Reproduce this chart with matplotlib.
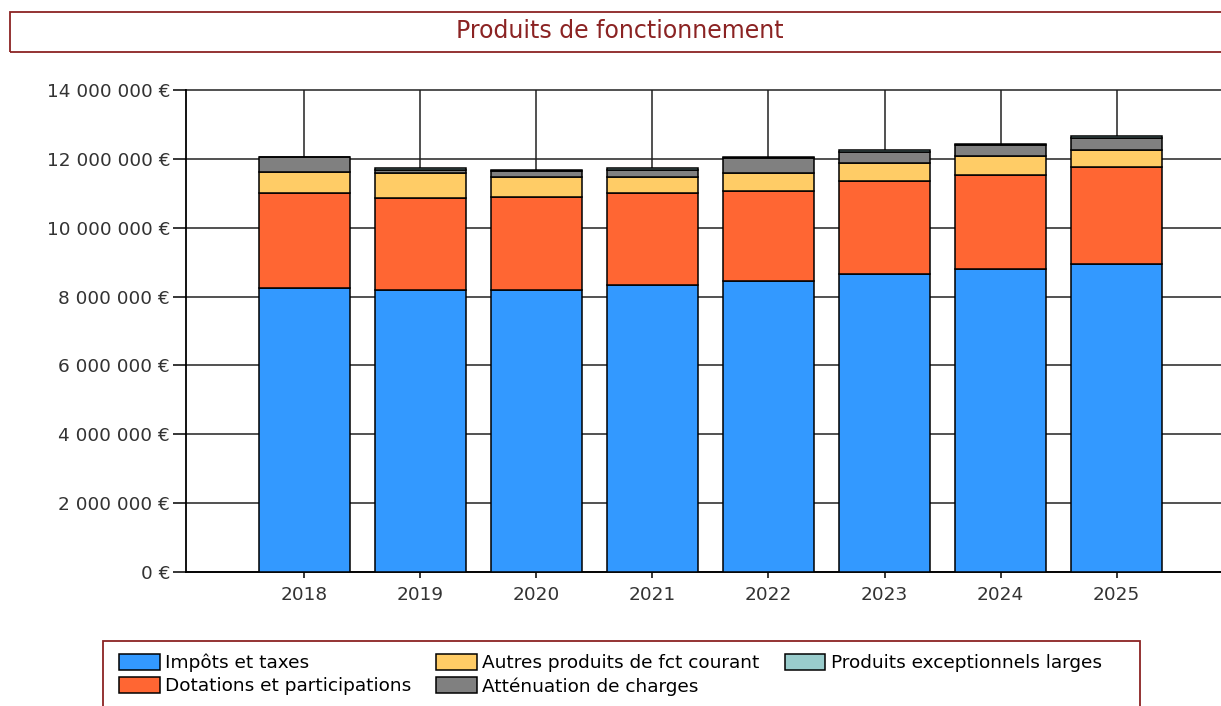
import matplotlib.pyplot as plt
import numpy as np
from matplotlib.patches import Rectangle
from matplotlib.ticker import FuncFormatter

# Données (en euros)
annees = ['2018', '2019', '2020', '2021', '2022', '2023', '2024', '2025']
impots = [8.26e6, 8.19e6, 8.19e6, 8.34e6, 8.45e6, 8.65e6, 8.79e6, 8.94e6]
dotations = [2.76e6, 2.66e6, 2.71e6, 2.68e6, 2.61e6, 2.71e6, 2.74e6, 2.81e6]
autres = [0.61e6, 0.73e6, 0.58e6, 0.46e6, 0.53e6, 0.51e6, 0.56e6, 0.51e6]
attenuation = [0.42e6, 0.10e6, 0.16e6, 0.20e6, 0.44e6, 0.33e6, 0.30e6, 0.34e6]
exceptionnels = [0.01e6, 0.04e6, 0.04e6, 0.04e6, 0.01e6, 0.05e6, 0.05e6, 0.05e6]

series = [
    ('Impôts et taxes', impots, '#3399FF'),
    ('Dotations et participations', dotations, '#FF6633'),
    ('Autres produits de fct courant', autres, '#FFCC66'),
    ('Atténuation de charges', attenuation, '#808080'),
    ('Produits exceptionnels larges', exceptionnels, '#99CCCC'),
]

rouge = '#8B2323'
plt.rcParams['font.family'] = 'DejaVu Sans'

fig = plt.figure(figsize=(12.21, 7.06), dpi=100)
ax = fig.add_axes([186 / 1221, 1 - 572 / 706, 1 - 186 / 1221, (572 - 90) / 706])

x = np.arange(len(annees))
bas = np.zeros(len(annees))
handles = []
for nom, vals, couleur in series:
    b = ax.bar(x, vals, width=0.79, bottom=bas, color=couleur,
               edgecolor='black', linewidth=1.1, label=nom, zorder=3)
    handles.append(b)
    bas += np.array(vals)

ax.set_ylim(0, 14e6)
ax.set_xlim(-1.02, 7.9)
ax.set_yticks(np.arange(0, 14e6 + 1, 2e6))
ax.yaxis.set_major_formatter(FuncFormatter(
    lambda v, p: f"{int(v):,}".replace(',', ' ') + ' €'))
ax.set_xticks(x)
ax.set_xticklabels(annees)

ax.grid(True, color='#222222', linewidth=1.1, zorder=0)
for gl in ax.get_ygridlines():
    gl.set_clip_on(False)
ax.set_axisbelow(True)

for s in ['top', 'right']:
    ax.spines[s].set_visible(False)
ax.spines['left'].set_linewidth(1.3)
ax.spines['bottom'].set_linewidth(1.3)
ax.tick_params(axis='y', length=9.5, width=1.1, pad=2, labelsize=13.3, labelcolor='#333333')
ax.tick_params(axis='x', length=4, width=1.1, pad=6, labelsize=13.3, labelcolor='#333333')

# Cadre du titre
fig.patches.append(Rectangle((10 / 1221, 1 - 52 / 706), 1.2, 40 / 706,
                             transform=fig.transFigure, fill=False,
                             edgecolor=rouge, linewidth=1.3))
fig.text(620 / 1221, 1 - 31 / 706, 'Produits de fonctionnement',
         ha='center', va='center', fontsize=17, color=rouge)

# Cadre de la légende
fig.patches.append(Rectangle((103 / 1221, -0.05), (1140 - 103) / 1221,
                             0.05 + 1 - 641 / 706, transform=fig.transFigure,
                             fill=False, edgecolor=rouge, linewidth=1.3))
fig.legend(handles=handles, loc='upper left',
           bbox_to_anchor=(106 / 1221, 1 - 641 / 706), ncol=3,
           frameon=False, fontsize=13.3, handlelength=2.2, handleheight=0.95,
           handletextpad=0.3, columnspacing=1.35, labelspacing=0.25,
           borderpad=0.2)

fig.savefig('out.png', dpi=100)
